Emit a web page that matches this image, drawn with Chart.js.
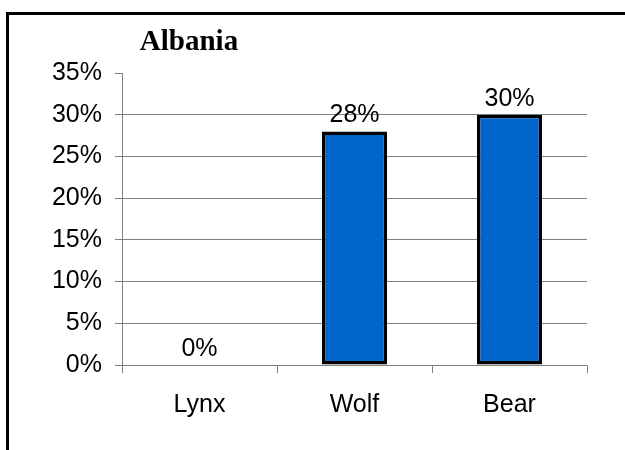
<!DOCTYPE html>
<html>
<head>
<meta charset="utf-8">
<script src="https://cdn.jsdelivr.net/npm/chart.js@4/dist/chart.umd.min.js"></script>
<style>
  html, body { margin: 0; padding: 0; background: #fff; overflow: hidden; }
  #wrap { position: relative; width: 625px; height: 450px; overflow: hidden; }
  #frame {
    position: absolute; left: 6px; top: 12px;
    width: 700px; height: 600px;
    border-left: 3px solid #000; border-top: 3px solid #000;
    pointer-events: none;
  }
</style>
</head>
<body>
<div id="wrap">
  <canvas id="chart" width="625" height="450"></canvas>
  <div id="frame"></div>
</div>
<script>
// chart data
const chartTitle = 'Albania';
const categories = ['Lynx', 'Wolf', 'Bear'];
const shares = [0, 28, 30];          // percent
const yTicks = [0, 5, 10, 15, 20, 25, 30, 35];

const FONT = '"Liberation Sans", Arial, sans-serif';
const GRID = '#808080';

// title drawn left of centre, like the original sheet
const titlePlugin = {
  id: 'sheetTitle',
  afterDraw(chart) {
    const ctx = chart.ctx;
    ctx.save();
    ctx.font = 'bold 29px "Liberation Serif", "Times New Roman", serif';
    ctx.fillStyle = '#000';
    ctx.textAlign = 'center';
    ctx.textBaseline = 'middle';
    ctx.fillText(chartTitle, 189, 43);
    ctx.restore();
  }
};

// value labels above each bar
const valueLabels = {
  id: 'valueLabels',
  afterDatasetsDraw(chart) {
    const ctx = chart.ctx;
    const meta = chart.getDatasetMeta(0);
    ctx.save();
    ctx.font = '25px ' + FONT;
    ctx.fillStyle = '#000';
    ctx.textAlign = 'center';
    ctx.textBaseline = 'middle';
    meta.data.forEach((bar, i) => {
      ctx.fillText(shares[i] + '%', bar.x, bar.y - 16);
    });
    ctx.restore();
  }
};

new Chart(document.getElementById('chart'), {
  type: 'bar',
  data: {
    labels: categories,
    datasets: [{
      label: chartTitle,
      data: shares,
      backgroundColor: '#0066CC',
      borderColor: '#000',
      borderWidth: 3.5,
      borderSkipped: false,
      categoryPercentage: 1,
      barPercentage: 0.42,
    }],
  },
  options: {
    responsive: false,
    animation: false,
    layout: { padding: { top: 73, right: 38, bottom: 0, left: 0 } },
    plugins: {
      legend: { display: false },
      title: { display: false },
      tooltip: { enabled: false },
    },
    scales: {
      x: {
        afterFit: (s) => { s.height = 85; },
        grid: {
          drawOnChartArea: false,
          drawTicks: true,
          tickLength: 8,
          color: GRID,
        },
        border: { color: GRID, width: 1 },
        ticks: {
          color: '#000',
          padding: 17,
          font: { family: FONT, size: 25 },
        },
      },
      y: {
        min: 0,
        max: 35,
        afterFit: (s) => { s.width = 122; },
        afterBuildTicks: (s) => { s.ticks = yTicks.map(v => ({ value: v })); },
        grid: {
          color: (c) => (c.tick && c.tick.value === 35 ? 'rgba(0,0,0,0)' : GRID),
          tickColor: GRID,
          tickLength: 7,
        },
        border: { color: GRID, width: 1 },
        ticks: {
          color: '#000',
          padding: 13,
          font: { family: FONT, size: 25 },
          callback: (v) => v + '%',
        },
      },
    },
  },
  plugins: [titlePlugin, valueLabels],
});
</script>
</body>
</html>
